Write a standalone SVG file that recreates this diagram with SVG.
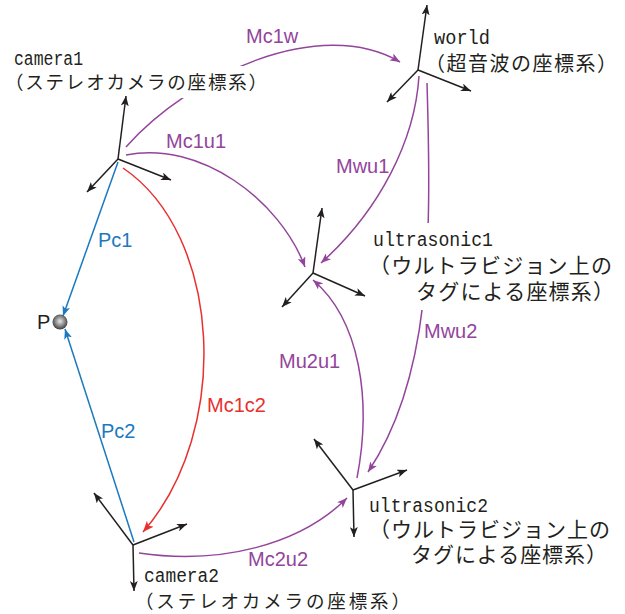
<svg xmlns="http://www.w3.org/2000/svg" width="625" height="614" viewBox="0 0 625 614">
<style>
.ax{stroke:#231f20;stroke-width:1.5;fill:none;marker-end:url(#ak)}
.pu{stroke:#93459b;stroke-width:1.5;fill:none;marker-end:url(#ap)}
.rd{stroke:#e8302f;stroke-width:1.5;fill:none;marker-end:url(#ar)}
.bl{stroke:#1b79c0;stroke-width:1.5;fill:none;marker-end:url(#ab)}
.mono{font-family:"Liberation Mono",monospace;font-size:20px;fill:#231f20}
.jp{font-family:"Noto Sans CJK JP",sans-serif;fill:#231f20}
.lbl{font-family:"Liberation Sans",Arial,sans-serif;font-size:20px}
.lp{fill:#93459b}.lr{fill:#e8302f}.lb{fill:#1b79c0}
.bg{fill:#ffffff}
</style>
<defs>
<marker id="ak" viewBox="0 0 10 8" refX="10" refY="4" markerWidth="10" markerHeight="8" orient="auto" markerUnits="userSpaceOnUse"><path d="M0,0 L10,4 L0,8 L2.5,4 z" fill="#231f20"/></marker>
<marker id="ap" viewBox="0 0 10 8" refX="10" refY="4" markerWidth="10" markerHeight="8" orient="auto" markerUnits="userSpaceOnUse"><path d="M0,0 L10,4 L0,8 L2.5,4 z" fill="#93459b"/></marker>
<marker id="ar" viewBox="0 0 10 8" refX="10" refY="4" markerWidth="11" markerHeight="9" orient="auto" markerUnits="userSpaceOnUse"><path d="M0,0 L10,4 L0,8 L2.5,4 z" fill="#e8302f"/></marker>
<marker id="ab" viewBox="0 0 10 8" refX="10" refY="4" markerWidth="10" markerHeight="8" orient="auto" markerUnits="userSpaceOnUse"><path d="M0,0 L10,4 L0,8 L2.5,4 z" fill="#1b79c0"/></marker>
<radialGradient id="sph" cx="0.5" cy="0.45" r="0.55">
<stop offset="0" stop-color="#e8e8e8"/><stop offset="0.55" stop-color="#8c8c8c"/><stop offset="1" stop-color="#3a3a3a"/>
</radialGradient>
</defs>

<g id="connectors">
<path class="pu" d="M126,147 C190,75 320,15 400,62"/>
<path class="pu" d="M126,155 C200,140 280,200 305,267"/>
<path class="pu" d="M419,76 C415,140 380,210 321,263"/>
<path class="pu" d="M427,83 C432,250 430,380 368,472"/>
<path class="pu" d="M357,478 C372,400 360,320 313,280"/>
<path class="pu" d="M139,553 C220,565 300,545 347,498"/>
<path class="rd" d="M123,168 C222,235 232,430 143,532"/>
<path class="bl" d="M118,162 L63,316"/>
<path class="bl" d="M134,542 L65,329"/>
<text class="lbl lp" x="246" y="43">Mc1w</text>
<text class="lbl lp" x="166" y="148">Mc1u1</text>
<text class="lbl lp" x="336" y="173">Mwu1</text>
<text class="lbl lp" x="424" y="338">Mwu2</text>
<text class="lbl lp" x="279" y="368">Mu2u1</text>
<text class="lbl lp" x="248" y="566">Mc2u2</text>
<text class="lbl lr" x="207" y="412">Mc1c2</text>
<text class="lbl lb" x="98" y="247">Pc1</text>
<text class="lbl lb" x="101" y="438">Pc2</text>
</g>

<g id="camera1">
<rect class="bg" x="4" y="66" width="258" height="32"/>
<line class="ax" x1="118" y1="159" x2="126" y2="96"/>
<line class="ax" x1="118" y1="159" x2="171" y2="180"/>
<line class="ax" x1="118" y1="159" x2="87" y2="192"/>
<text class="mono" x="14" y="64.5" textLength="69" lengthAdjust="spacingAndGlyphs">camera1</text>
<text class="jp" x="5" y="89" font-size="18.5" textLength="262" lengthAdjust="spacing">（ステレオカメラの座標系）</text>
</g>

<g id="world">
<line class="ax" x1="418" y1="70" x2="427" y2="5"/>
<line class="ax" x1="418" y1="70" x2="471" y2="91"/>
<line class="ax" x1="418" y1="70" x2="387" y2="102"/>
<text class="mono" x="434" y="44" textLength="56" lengthAdjust="spacingAndGlyphs">world</text>
<text class="jp" x="425" y="71" font-size="20" textLength="192" lengthAdjust="spacing">（超音波の座標系）</text>
</g>

<g id="ultrasonic1">
<rect class="bg" x="370" y="223" width="250" height="87"/>
<line class="ax" x1="313" y1="273" x2="322" y2="208"/>
<line class="ax" x1="313" y1="273" x2="365" y2="296"/>
<line class="ax" x1="313" y1="273" x2="282" y2="307"/>
<text class="mono" x="373" y="246" textLength="120" lengthAdjust="spacingAndGlyphs">ultrasonic1</text>
<text class="jp" x="369" y="273" font-size="21" textLength="243" lengthAdjust="spacing">（ウルトラビジョン上の</text>
<text class="jp" x="416" y="299" font-size="21" textLength="198" lengthAdjust="spacing">タグによる座標系）</text>
</g>

<g id="ultrasonic2">
<line class="ax" x1="353" y1="490" x2="314" y2="439"/>
<line class="ax" x1="353" y1="490" x2="407" y2="470"/>
<line class="ax" x1="353" y1="490" x2="354" y2="537"/>
<text class="mono" x="369" y="512" textLength="119" lengthAdjust="spacingAndGlyphs">ultrasonic2</text>
<text class="jp" x="369" y="537" font-size="21" textLength="241" lengthAdjust="spacing">（ウルトラビジョン上の</text>
<text class="jp" x="411" y="562" font-size="21" textLength="196" lengthAdjust="spacing">タグによる座標系）</text>
</g>

<g id="camera2">
<line class="ax" x1="133" y1="545" x2="94" y2="493"/>
<line class="ax" x1="133" y1="545" x2="187" y2="524"/>
<line class="ax" x1="133" y1="545" x2="134" y2="591"/>
<text class="mono" x="144" y="582" textLength="75" lengthAdjust="spacingAndGlyphs">camera2</text>
<text class="jp" x="135" y="608" font-size="18.5" textLength="275" lengthAdjust="spacing">（ステレオカメラの座標系）</text>
</g>

<g id="P">
<circle cx="60" cy="322" r="7.5" fill="url(#sph)"/>
<text class="lbl" x="37" y="329" fill="#231f20">P</text>
</g>
</svg>
